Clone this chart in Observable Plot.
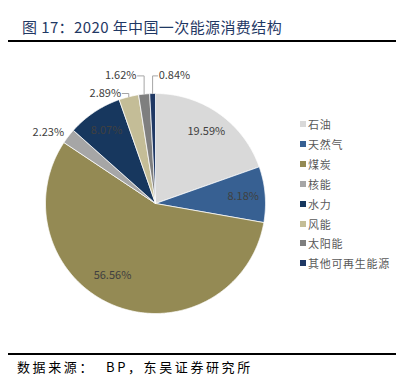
<!DOCTYPE html>
<html><head><meta charset="utf-8">
<script src="https://cdn.jsdelivr.net/npm/d3@7"></script>
<script src="https://cdn.jsdelivr.net/npm/@observablehq/plot@0.6"></script>
<style>
body{margin:0;width:412px;height:391px;position:relative;background:#fff;font-family:"Noto Sans CJK SC","Noto Sans",sans-serif;overflow:hidden}
#title{position:absolute;left:22px;top:19px;font-size:15px;line-height:16px;letter-spacing:0.4px;color:#1f3864;white-space:nowrap}
.rule{position:absolute;left:8px;width:388px;height:2px;background:#000}
#chart{position:absolute;left:0;top:44px}
#legend{position:absolute;left:300px;top:0}
.item{position:absolute;left:0;height:14px;line-height:14px;font-size:11px;letter-spacing:0.7px;color:#595959;white-space:nowrap}
.sw{position:absolute;left:0;top:4px;width:6px;height:6px}
.item span{position:absolute;left:8px;top:0}
#source{position:absolute;left:17px;top:360px;font-size:13px;line-height:14px;letter-spacing:2.6px;color:#000;white-space:nowrap}
</style></head>
<body>
<div id="title">图 17：2020 年中国一次能源消费结构</div>
<div class="rule" style="top:40px"></div>
<div id="chart"></div>
<div id="legend"></div>
<div class="rule" style="top:353px"></div>
<div id="source">数据来源：&nbsp;&nbsp;BP，东吴证券研究所</div>
<script>
const categories = ["石油","天然气","煤炭","核能","水力","风能","太阳能","其他可再生能源"];
const shares = [19.59, 8.18, 56.56, 2.23, 8.07, 2.89, 1.62, 0.84];
const colors = ["#d9d9d9","#376092","#948a54","#a6a6a6","#17375e","#c4bd97","#7f7f7f","#1f3864"];
const labels = shares.map(v => v.toFixed(2) + "%");

const rows = categories.map((c, i) => ({category: c, share: shares[i], label: labels[i]}));
const arcs = d3.pie().sort(null).value(d => d.share)(rows);

// slice outlines
const poly = [];
arcs.forEach(a => {
  const c = a.data.category;
  const n = Math.max(2, Math.ceil((a.endAngle - a.startAngle) / (Math.PI / 360)));
  poly.push({category: c, x: 0, y: 0});
  for (let k = 0; k <= n; k++) {
    const t = a.startAngle + (a.endAngle - a.startAngle) * k / n;
    poly.push({category: c, x: Math.sin(t), y: Math.cos(t)});
  }
  poly.push({category: c, x: 0, y: 0});
});

// label angle: mid angle, large slices pulled slightly toward their end
const mid = a => (a.startAngle + a.endAngle) / 2;
const labelAngle = a => {
  const span = a.endAngle - a.startAngle;
  return span > Math.PI ? mid(a) + span * 0.045 : mid(a);
};
const inside = [], outside = [], leaderLabels = [], leaders = [];
const leaderLevels = [1.0, 1.16, 1.16];
arcs.forEach(a => {
  const m = mid(a);
  if (a.data.share >= 5) {
    const t = labelAngle(a);
    const r = a.endAngle - a.startAngle > Math.PI ? 0.76 : 0.8;
    inside.push({x: r * Math.sin(t), y: r * Math.cos(t), text: a.data.label});
  } else if (Math.cos(m) < 0.95) {
    outside.push({x: 1.05 * Math.sin(m), y: 1.05 * Math.cos(m), text: a.data.label});
  } else {
    const lvl = leaderLevels[leaderLabels.length];
    const ex = Math.sin(m);
    const left = ex < -0.05;
    const lx = left ? ex - 0.06 : ex + 0.045;
    leaders.push({k: a.data.category, x: ex, y: Math.cos(m)});
    leaders.push({k: a.data.category, x: ex, y: lvl});
    leaders.push({k: a.data.category, x: lx, y: lvl});
    leaderLabels.push({x: left ? lx - 0.01 : lx + 0.01, y: lvl, text: a.data.label, anchor: left ? "end" : "start"});
  }
});

const R = 110, W = 412, H = 308, cx = 155, cy = 159;
const font = "Noto Sans CJK SC, Noto Sans, sans-serif";
const chart = Plot.plot({
  width: W, height: H,
  margin: 0,
  x: {domain: [-cx / R, (W - cx) / R], axis: null},
  y: {domain: [-(H - cy) / R, cy / R], axis: null},
  color: {domain: categories, range: colors},
  marks: [
    Plot.line(poly, {x: "x", y: "y", z: "category", fill: "category", stroke: "#fff", strokeWidth: 0.75, curve: "linear"}),
    Plot.line(leaders, {x: "x", y: "y", z: "k", stroke: "#a6a6a6", strokeWidth: 1}),
    Plot.text(inside, {x: "x", y: "y", text: "text", fill: "#404040", fontSize: 11, fontFamily: font}),
    Plot.text(outside, {x: "x", y: "y", text: "text", fill: "#404040", fontSize: 11, fontFamily: font, textAnchor: "end"}),
    Plot.text(leaderLabels.filter(d => d.anchor === "end"), {x: "x", y: "y", text: "text", fill: "#404040", fontSize: 11, fontFamily: font, textAnchor: "end"}),
    Plot.text(leaderLabels.filter(d => d.anchor === "start"), {x: "x", y: "y", text: "text", fill: "#404040", fontSize: 11, fontFamily: font, textAnchor: "start"})
  ]
});
document.getElementById("chart").appendChild(chart);

const legend = d3.select("#legend");
categories.forEach((c, i) => {
  const it = legend.append("div").attr("class", "item").style("top", (117 + i * 19.9) + "px");
  it.append("div").attr("class", "sw").style("background", colors[i]);
  it.append("span").text(c);
});
</script>
</body></html>
